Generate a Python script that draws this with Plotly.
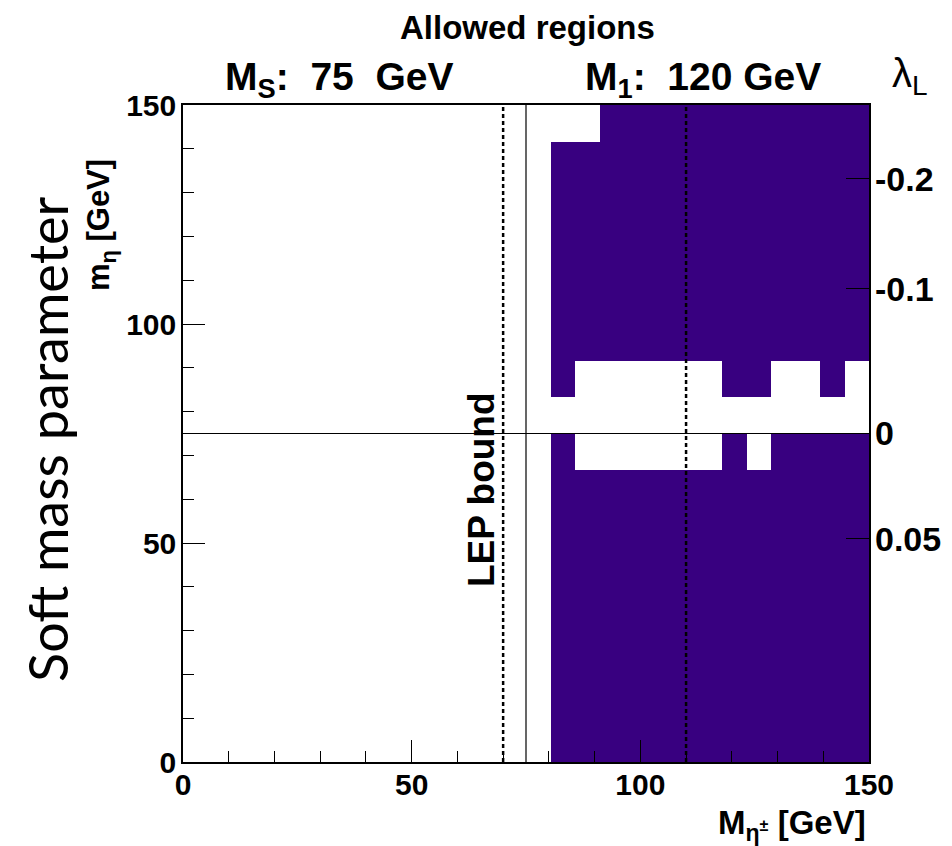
import numpy as np
import plotly.graph_objects as go

# ---- data ----
x_min, x_max, n_xbins = 0.0, 150.0, 28
y_min, y_max, n_ybins = 0.0, 150.0, 18
# allowed-region mask, rows listed from top (m_eta ~150) to bottom (m_eta ~0); '#' = allowed
allowed_rows_top_down = [
    "................." + "###########",
    "..............." + "#############",
    "..............." + "#############",
    "..............." + "#############",
    "..............." + "#############",
    "..............." + "#############",
    "..............." + "#############",
    "..............." + "#" + "......" + "##" + ".." + "#" + ".",
    "............................",
    "..............." + "#" + "......" + "#" + "." + "####",
    "..............." + "#############",
    "..............." + "#############",
    "..............." + "#############",
    "..............." + "#############",
    "..............." + "#############",
    "..............." + "#############",
    "..............." + "#############",
    "..............." + "#############",
]
M_S = 75.0          # singlet mass line
LEP_bound = 70.0    # LEP bound (dashed)
M1_line = 110.0     # dashed line
v_ev = 246.0        # GeV, for lambda_L axis
lambda_ticks = [-0.2, -0.1, 0.0, 0.05]
lambda_labels = ["-0.2", "-0.1", "0", "0.05"]
x_major = [0, 50, 100, 150]
y_major = [0, 50, 100, 150]

# ---- build heatmap ----
dx = (x_max - x_min) / n_xbins
dy = (y_max - y_min) / n_ybins
xc = x_min + dx * (np.arange(n_xbins) + 0.5)
yc = y_min + dy * (np.arange(n_ybins) + 0.5)
rows = list(reversed(allowed_rows_top_down))
z = [[1.0 if ch == "#" else None for ch in r] for r in rows]

purple = "#380080"
fig = go.Figure()
fig.add_trace(go.Heatmap(x=xc, y=yc, z=z, colorscale=[[0, purple], [1, purple]],
                         showscale=False, hoverinfo="skip", zmin=0, zmax=1))
# invisible trace for the right axis
fig.add_trace(go.Scatter(x=[None], y=[None], yaxis="y2", showlegend=False))

# lambda_L tick positions: lambda = (M_S^2 - m^2)/v^2
lam_pos = [float(np.sqrt(M_S**2 - l * v_ev**2)) for l in lambda_ticks]

tickfont = dict(family="Liberation Sans, Arial", size=30, color="black", weight="bold")
tickfont_r = dict(tickfont, size=34)

fig.update_layout(
    width=952, height=846,
    margin=dict(l=183, r=83, t=105, b=84),
    paper_bgcolor="white", plot_bgcolor="white",
    showlegend=False,
    xaxis=dict(range=[x_min, x_max], showgrid=False, zeroline=False,
               showline=True, linecolor="black", linewidth=1.5, mirror=True,
               ticks="inside", ticklen=22, tickwidth=1, tickcolor="black",
               tickvals=x_major, ticktext=[str(v) for v in x_major], tickfont=tickfont,
               minor=dict(ticks="inside", ticklen=11, tickcolor="black", tickwidth=1, dtick=10, tick0=0, showgrid=False),
               ticklabelstandoff=-5),
    yaxis=dict(range=[y_min, y_max], showgrid=False, zeroline=False,
               showline=True, linecolor="black", linewidth=1.5, mirror=True,
               ticks="inside", ticklen=22, tickwidth=1, tickcolor="black",
               tickvals=y_major, ticktext=[str(v) for v in y_major], tickfont=tickfont,
               minor=dict(ticks="inside", ticklen=11, tickcolor="black", tickwidth=1, dtick=10, tick0=0, showgrid=False),
               ticklabelstandoff=-1),
    yaxis2=dict(range=[y_min, y_max], overlaying="y", side="right", showgrid=False, zeroline=False,
                showline=False, ticks="inside", ticklen=23, tickwidth=1, tickcolor="black",
                tickvals=lam_pos, ticktext=lambda_labels, tickfont=tickfont_r, ticklabelstandoff=5),
)

# lines
line_solid = dict(color="black", width=1.2)
line_dash = dict(color="black", width=2.5, dash="4px,3px")
fig.add_shape(type="line", x0=M_S, x1=M_S, y0=y_min, y1=y_max, xref="x", yref="y", line=line_solid, layer="above")
fig.add_shape(type="line", x0=x_min, x1=x_max, y0=M_S, y1=M_S, xref="x", yref="y", line=line_solid, layer="above")
fig.add_shape(type="line", x0=LEP_bound, x1=LEP_bound, y0=y_min, y1=y_max, xref="x", yref="y", line=line_dash, layer="above")
fig.add_shape(type="line", x0=M1_line, x1=M1_line, y0=y_min, y1=y_max, xref="x", yref="y", line=line_dash, layer="above")

bold = dict(family="Liberation Sans, Arial", color="black", weight="bold")
def ann(text, x, y, size, xanchor="center", yanchor="middle", angle=0, font=None):
    f = dict(font or bold)
    f["size"] = size
    fig.add_annotation(text=text, x=x, y=y, xref="paper", yref="paper", showarrow=False,
                       xanchor=xanchor, yanchor=yanchor, textangle=angle, font=f)

def px(x): return (x - 183) / (869 - 183)
def py(y): return (762 - y) / (762 - 105)

ann("Allowed regions", px(527), py(28), 33)
ann("M<sub>S</sub>:&nbsp;&nbsp;75&nbsp;&nbsp;GeV", px(223), py(80), 39, xanchor="left")
ann("M<sub>1</sub>:&nbsp;&nbsp;120&nbsp;GeV", px(583), py(80), 39, xanchor="left")
ann("λ<sub>L</sub>", px(910), py(76), 40, font=dict(family="Liberation Sans, Arial", color="black"))
ann("Soft mass parameter", px(47), py(440), 54, angle=-90,
    font=dict(family="Lato, Open Sans", color="black"))
ann("m<sub>η</sub> [GeV]", px(101), py(225), 31, angle=-90)
ann("M<sub>η<sup>±</sup></sub> [GeV]", px(868), py(825), 33, xanchor="right")
ann("LEP bound", px(481), py(490), 37, angle=-90)

fig.write_html("out.html")
